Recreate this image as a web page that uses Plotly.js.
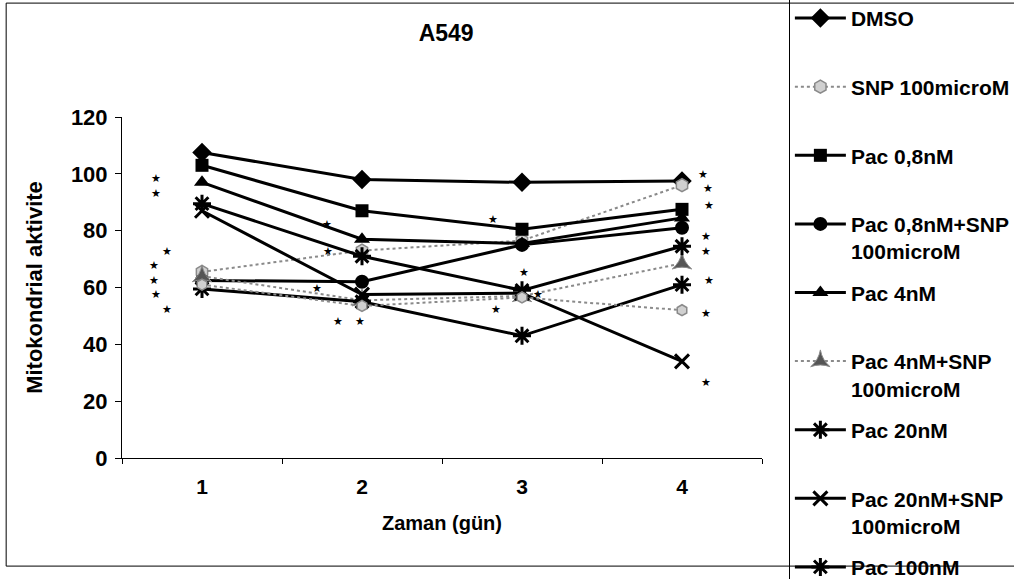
<!DOCTYPE html>
<html>
<head>
<meta charset="utf-8">
<script src="https://cdn.plot.ly/plotly-3.0.1.min.js"></script>
<style>html,body{margin:0;padding:0;background:#fff;}#chart{width:1014px;height:579px;}</style>
</head>
<body>
<div id="chart"></div>
<script>
// Categories (days)
const days = ['1', '2', '3', '4'];

// Series values (Mitokondrial aktivite)
const dmso        = [107.5, 98, 97, 97.5];
const snp100      = [65.5, 73, 76.5, 96];
const pac08       = [103, 87, 80.5, 87.5];
const pac08snp    = [62.5, 62, 75, 81];
const pac4        = [97, 77, 75.5, 84.5];
const pac4snp     = [64, 55.5, 57, 68.5];
const pac20       = [89.5, 71, 59, 74.5];
const pac20snp    = [87, 57.5, 58, 34];
const pac100      = [59.5, 55, 43, 61];
const pac100snp   = [61, 53.5, 56.5, 52];

// Series names (legend labels)
const names = ['DMSO', 'SNP 100microM', 'Pac 0,8nM', 'Pac 0,8nM+SNP<br>100microM', 'Pac 4nM',
               'Pac 4nM+SNP<br>100microM', 'Pac 20nM', 'Pac 20nM+SNP<br>100microM', 'Pac 100nM',
               'Pac 100nM+SNP 100microM'];

// Significance star annotations (x in category units, y in data units)
const starX = [0.69, 0.71, 0.71, 0.78, 0.70, 0.70, 0.71, 0.78, 1.72, 1.78, 1.79, 1.85, 1.99,
               2.82, 3.01, 2.84, 3.10, 4.13, 4.16, 4.17, 4.15, 4.15, 4.17, 4.15, 4.15];
const starY = [125.3, 98.2, 93.2, 72.5, 67.9, 62.3, 57.4, 52.1, 59.8, 82.3, 72.5, 48.2, 48.2,
               84.1, 65.4, 52.4, 57.6, 99.6, 95, 89, 78.1, 72.5, 62.3, 50.7, 26.7];

const black = '#000000';
const gray = '#8a8a8a';
const solid = {color: black, width: 3};
const dotted = {color: gray, width: 2, dash: 'dot'};

function legendName(n) {
  // single-line entries get an empty second line so every legend entry has equal height
  return n.indexOf('<br>') >= 0 ? n : n + '<br>&nbsp;';
}

const specs = [
  {y: dmso, line: solid, marker: {symbol: 'diamond', size: 15, color: black}},
  {y: snp100, line: dotted, marker: {symbol: 'hexagon', size: 13, color: '#d0d0d0', line: {color: gray, width: 1.5}}},
  {y: pac08, line: solid, marker: {symbol: 'square', size: 13, color: black}},
  {y: pac08snp, line: solid, marker: {symbol: 'circle', size: 14, color: black}},
  {y: pac4, line: solid, marker: {symbol: 'triangle-up', size: 14, color: black}},
  {y: pac4snp, line: dotted, marker: {symbol: 'star-triangle-up', size: 14, color: '#555555', line: {color: gray, width: 1}}},
  {y: pac20, line: solid, marker: {symbol: 'asterisk-open', size: 15, line: {color: black, width: 3}}},
  {y: pac20snp, line: solid, marker: {symbol: 'x-thin-open', size: 14, line: {color: black, width: 3}}},
  {y: pac100, line: solid, marker: {symbol: 'asterisk-open', size: 15, line: {color: black, width: 3}}},
  {y: pac100snp, line: dotted, marker: {symbol: 'hexagon', size: 11, color: '#d0d0d0', line: {color: gray, width: 1.5}}}
];

const traces = specs.map((s, i) => ({
  type: 'scatter',
  mode: 'lines+markers',
  x: days,
  y: s.y,
  name: i === 9 ? names[i] : legendName(names[i]),
  legendgroup: 'g' + i,
  showlegend: i !== 9,
  line: s.line,
  marker: s.marker,
  cliponaxis: false
}));

const fontFam = 'Arial, "Liberation Sans", sans-serif';

const annotations = starX.map((x, i) => ({
  x: x - 1, y: starY[i], xref: 'x', yref: 'y', text: '★', showarrow: false,
  font: {family: 'DejaVu Sans, sans-serif', size: 11, color: black}
}));

const layout = {
  width: 1014,
  height: 579,
  margin: {l: 122, r: 252, t: 117, b: 121, autoexpand: false},
  paper_bgcolor: '#ffffff',
  plot_bgcolor: '#ffffff',
  font: {family: fontFam, color: black, size: 21, weight: 'bold'},
  title: {
    text: 'A549',
    font: {family: fontFam, size: 23, weight: 'bold', color: black},
    x: 0.44, xref: 'container', xanchor: 'center',
    y: 0.943, yref: 'container', yanchor: 'middle'
  },
  xaxis: {
    type: 'category',
    range: [-0.5, 3.5],
    autorange: false,
    tickson: 'boundaries',
    ticks: 'outside', ticklen: 5, tickcolor: black, tickwidth: 1,
    ticklabelstandoff: 10,
    showline: true, linecolor: black, linewidth: 1,
    showgrid: false, zeroline: false,
    tickfont: {family: fontFam, size: 21, weight: 'bold', color: black},
    title: {text: 'Zaman (gün)', font: {family: fontFam, size: 20, weight: 'bold', color: black}, standoff: 18}
  },
  yaxis: {
    range: [0, 120], dtick: 20, autorange: false,
    ticks: 'outside', ticklen: 6, tickcolor: black, tickwidth: 1,
    ticklabelstandoff: 3,
    showline: true, linecolor: black, linewidth: 1,
    showgrid: false, zeroline: false,
    tickfont: {family: fontFam, size: 22, weight: 'bold', color: black},
    title: {text: 'Mitokondrial aktivite', font: {family: fontFam, size: 22, weight: 'bold', color: black}, standoff: 22}
  },
  legend: {
    x: 1.042, xanchor: 'left',
    y: 1.352, yanchor: 'top',
    bgcolor: 'rgba(0,0,0,0)',
    bordercolor: black, borderwidth: 1,
    font: {family: fontFam, size: 21, weight: 'bold', color: black},
    itemwidth: 51,
    entrywidth: 250,
    valign: 'top',
    traceorder: 'grouped',
    tracegroupgap: 11,
    maxheight: 2000
  },
  shapes: [
    {type: 'rect', xref: 'paper', yref: 'paper', x0: -0.181, x1: 1.42, y0: -0.317, y1: 1.334,
     line: {color: black, width: 1}, fillcolor: 'rgba(0,0,0,0)', layer: 'below'}
  ],
  annotations: annotations,
  showlegend: true
};

Plotly.newPlot('chart', traces, layout, {displayModeBar: false, staticPlot: true});
</script>
</body>
</html>
